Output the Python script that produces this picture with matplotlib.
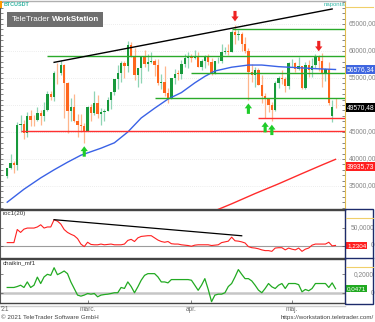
import numpy as np
import pandas as pd
import matplotlib
matplotlib.use("Agg")
import matplotlib.pyplot as plt
import matplotlib.dates as mdates
import matplotlib.transforms as mtransforms
from matplotlib.patches import Rectangle
from matplotlib.lines import Line2D
from matplotlib.ticker import MultipleLocator, FixedLocator

plt.rcParams["font.family"] = ["Liberation Sans", "DejaVu Sans"]

# ---------------------------------------------------------------- data
symbol = "BTCUSDT"
interval_label = "naponta"

dates = pd.date_range("2021-02-05", "2021-05-14", freq="D")

opens = [36940, 38290, 39180, 38800, 46370, 46420, 44810, 47970, 47290, 47150,
         48580, 47910, 49130, 52120, 51550, 55910, 55840, 57410, 54090, 48890,
         49680, 47070, 46280, 46100, 45130, 49600, 48440, 50350, 48370, 48750,
         48880, 50960, 52380, 54870, 55850, 57770, 57220, 61190, 58980, 55610,
         56900, 58910, 57640, 58030, 58100, 57350, 54080, 54340, 52300, 51290,
         55030, 55820, 55780, 57630, 58730, 58740, 58720, 58950, 57060, 58200,
         59130, 57990, 55950, 58100, 58100, 59770, 59960, 59840, 63590, 62960,
         63160, 61330, 60010, 56150, 55630, 56430, 53790, 51690, 51110, 50050,
         49000, 54030, 55030, 54830, 53560, 57700, 57800, 56580, 57170, 53210,
         57440, 56390, 57320, 58870, 58240, 55820, 56670, 47900, 49650]
highs = [38310, 40960, 39700, 46790, 48200, 47310, 48680, 48990, 48150, 49710,
         49010, 50600, 52620, 52530, 56370, 57700, 58350, 57510, 54180, 51370,
         52040, 48420, 48390, 46640, 49790, 50200, 52640, 51770, 49450, 49200,
         51450, 52400, 54900, 57390, 58150, 58060, 61850, 61700, 60630, 56940,
         58980, 60100, 59470, 59880, 58590, 58430, 55830, 57200, 53230, 55070,
         56700, 56560, 58410, 59370, 59800, 59490, 60200, 59790, 58490, 59250,
         59470, 58650, 58150, 58890, 61300, 60800, 61300, 63800, 64850, 63800,
         63520, 62510, 60500, 57530, 57080, 56760, 55470, 52130, 51170, 50550,
         54360, 55460, 56430, 55200, 58000, 58460, 57910, 58980, 57200, 57940,
         58360, 58650, 59500, 59300, 59590, 56860, 58000, 51000, 51300]
lows = [36570, 38220, 37350, 37990, 45020, 43730, 43990, 46130, 46200, 47020,
        46300, 47000, 48950, 50900, 50710, 53860, 55480, 47620, 44890, 47000,
        46810, 44110, 45000, 43000, 45120, 47050, 48100, 47500, 46300, 47070,
        48880, 49270, 51850, 53010, 54270, 55010, 56080, 58970, 54600, 53270,
        54120, 57020, 56270, 57820, 55450, 53650, 53000, 51700, 50430, 51200,
        53950, 54690, 54800, 57070, 56770, 57940, 58450, 56960, 56480, 56820,
        57330, 55470, 55700, 57690, 57870, 59370, 59350, 59800, 61300, 62020,
        60000, 59580, 50930, 54220, 53330, 53700, 50400, 47500, 48660, 47000,
        48820, 53220, 53810, 52330, 53010, 57050, 56040, 56440, 53050, 52900,
        55200, 55240, 56900, 56240, 53400, 54370, 50000, 46900, 49400]
closes = [38290, 39190, 38800, 46370, 46420, 44810, 47970, 47290, 47150, 48580,
          47910, 49130, 52120, 51550, 55910, 55840, 57410, 54090, 48890, 49680,
          47070, 46280, 46110, 45140, 49590, 48440, 50350, 48370, 48750, 48880,
          50970, 52380, 54880, 55850, 57770, 57220, 61190, 58970, 55610, 56900,
          58910, 57650, 58030, 58100, 57350, 54080, 54340, 52300, 51290, 55030,
          55820, 55780, 57630, 58730, 58740, 58720, 58950, 57060, 58200, 59130,
          57990, 56000, 58100, 58130, 59770, 59960, 59840, 63590, 62970, 63160,
          61330, 60010, 56150, 55630, 56430, 53790, 51690, 51130, 50050, 49000,
          54020, 55030, 54830, 53560, 57690, 57800, 56580, 57170, 53200, 57440,
          56390, 57310, 58860, 58240, 55820, 56670, 50300, 49650, 49570.48]

ma50_dates = ["2021-02-05", "2021-02-10", "2021-02-15", "2021-02-19", "2021-02-23",
              "2021-02-27", "2021-03-05", "2021-03-09", "2021-03-13", "2021-03-17",
              "2021-03-21", "2021-03-25", "2021-03-29", "2021-04-02", "2021-04-05",
              "2021-04-08", "2021-04-13", "2021-04-18", "2021-04-22", "2021-04-27",
              "2021-05-03", "2021-05-09", "2021-05-14"]
ma50_values = [32000, 34400, 36500, 38000, 39400,
               40700, 42000, 43000, 45000, 47600,
               49400, 51100, 52300, 54100, 55300,
               56300, 57000, 57400, 57400, 57100,
               56900, 56700, 56576.34]

ma200_dates = ["2021-04-06", "2021-04-13", "2021-04-20", "2021-04-27",
               "2021-05-04", "2021-05-10", "2021-05-14"]
ma200_values = [29900, 31700, 33600, 35400, 37300, 38900, 39935.73]

price_trend_dates = ["2021-02-19", "2021-05-13"]
price_trend_values = [57900, 67780]

support_levels = [59000, 64000, 55900, 51300]
support_starts = ["2021-02-17", "2021-04-13", "2021-04-01", "2021-03-21"]
floor_levels = [47500, 45200]
floor_starts = ["2021-04-21", "2021-02-09"]

buy_signal_dates = ["2021-02-28", "2021-04-18", "2021-04-23", "2021-04-25"]
sell_signal_dates = ["2021-04-14", "2021-05-09"]

price_ticks = [35000, 40000, 45000, 50000, 55000, 60000, 65000]

roc_values = [9, 9, 9, 45, 37, 46, 49, 49, 49, 52,
              58, 49, 52, 52, 72, 68, 60, 45, 37, 32,
              28, 20, 5, -2, 10, 4, 3, 3, 5, 3,
              4, 5, 3, 3, 3, 5, 15, 18, 12, 22,
              26, 27, 28, 28, 22, 16, 12, 10, 12, 6,
              5, 5, 3, 2, 1, -1, 2, 3, 3, 3,
              3, 1, 2, 3, 9, 11, 13, 24, 14, 13,
              11, 8, -2, -5, -6, -8, -11, -13, -13, -15,
              -6, -5, -5, -11, -6, -9, -11, -6, -15, -9,
              -6, 2, 5, 5, 5, 5, 10, 0, 1.2304]
roc_trend_dates = ["2021-02-19", "2021-04-16"]
roc_trend_values = [72, 27.8]
roc_ticks = [0, 50]

cmf_values = [0.060, 0.060, 0.060, 0.070, 0.084, 0.060, 0.119, 0.060, 0.084, 0.170,
              0.102, 0.172, 0.200, 0.189, 0.270, 0.196, 0.214, 0.235, 0.207, 0.119,
              0.049, -0.021, -0.032, -0.021, -0.004, -0.011, -0.004, -0.039, -0.021, -0.015,
              -0.011, -0.004, 0.004, 0.004, 0.060, 0.050, 0.119, 0.070, 0.004, 0.067,
              0.137, 0.189, 0.207, 0.207, 0.207, 0.172, 0.119, 0.119, 0.109, 0.144,
              0.144, 0.144, 0.144, 0.144, 0.144, 0.137, 0.084, 0.030, 0.084, 0.154,
              0.040, -0.091, -0.021, -0.011, -0.011, 0.004, 0.070, 0.102, 0.172, 0.250,
              0.200, 0.154, 0.154, 0.130, 0.084, 0.032, 0.004, 0.049, 0.102, 0.067,
              0.049, 0.084, 0.102, 0.049, 0.102, 0.102, 0.102, 0.090, 0.014, 0.039,
              0.025, 0.049, 0.102, 0.102, 0.102, 0.102, 0.060, 0.109, 0.0471]
cmf_ticks = [0, 0.2]

month_ticks = ["2021-03-01", "2021-04-01", "2021-05-01"]
month_labels = ["márc.", "ápr.", "máj."]

# ---------------------------------------------------------------- style
UP_BODY, UP_WICK = "#17993b", "#8fd4b4"
DN_BODY, DN_WICK = "#ff661c", "#ffb68c"
MA50_C, MA200_C = "#3a62e6", "#ff2b2b"
LEVEL_G, LEVEL_R = "#2aaa2a", "#ff3030"
AXIS_TXT = "#858585"

W, H = 375, 322
fig = plt.figure(figsize=(W / 100, H / 100), dpi=100)
fig.patch.set_facecolor("white")


def px_box(x0, y0, x1, y1):
    return [x0 / W, 1 - y1 / H, (x1 - x0) / W, (y1 - y0) / H]


ax = fig.add_axes(px_box(0, 1, 345, 209))
ax_roc = fig.add_axes(px_box(0, 209.5, 345, 258), sharex=ax)
ax_cmf = fig.add_axes(px_box(0, 258.5, 345, 303), sharex=ax)

x = mdates.date2num(dates)
o, h, l, c = (np.asarray(v, dtype=float) for v in (opens, highs, lows, closes))

anchor = mdates.date2num(pd.Timestamp("2021-04-14"))
px_per_day = 3.35
x_left, x_right = anchor - 235 / px_per_day, anchor + 110 / px_per_day
ax.set_xlim(x_left, x_right)
ax.set_ylim(30740, 69260)
ax_roc.set_ylim(-33.3, 100)
ax_cmf.set_ylim(-0.105, 0.368)

for a in (ax, ax_roc, ax_cmf):
    a.set_facecolor("white")
    a.spines["right"].set(linestyle=(0, (1, 1)), color="#e0bb50", linewidth=0.8)
    a.spines["left"].set(color="#555555", linewidth=0.8)
    a.spines["top"].set(color="#444444", linewidth=1.0)
    a.spines["bottom"].set(color="#444444", linewidth=1.0)
ax.spines["top"].set_color("#b0b0b0")

# price grid
for v in price_ticks:
    ax.axhline(v, color="#dcdcdc", lw=0.5, ls=(0, (1, 2)), zorder=0)

# candles
up = c >= o
body_bottom = np.minimum(o, c)
body_height = np.maximum(np.abs(c - o), 130)
ax.vlines(x[up], l[up], h[up], color=UP_WICK, lw=0.9, zorder=2)
ax.vlines(x[~up], l[~up], h[~up], color=DN_WICK, lw=0.9, zorder=2)
ax.bar(x[up], body_height[up], bottom=body_bottom[up], width=0.7,
       color=UP_BODY, lw=0, zorder=3)
ax.bar(x[~up], body_height[~up], bottom=body_bottom[~up], width=0.7,
       color=DN_BODY, lw=0, zorder=3)

# moving averages
ax.plot(mdates.date2num(pd.to_datetime(ma50_dates)), ma50_values,
        color=MA50_C, lw=1.0, zorder=4)
ax.plot(mdates.date2num(pd.to_datetime(ma200_dates)), ma200_values,
        color=MA200_C, lw=1.0, zorder=4)

# horizontal levels
for lvl, st in zip(support_levels, support_starts):
    ax.hlines(lvl, mdates.date2num(pd.Timestamp(st)), x_right,
              color=LEVEL_G, lw=1.0, zorder=4)
for lvl, st in zip(floor_levels, floor_starts):
    ax.hlines(lvl, mdates.date2num(pd.Timestamp(st)), x_right,
              color=LEVEL_R, lw=1.0, zorder=4)

# trend line
ax.plot(mdates.date2num(pd.to_datetime(price_trend_dates)), price_trend_values,
        color="black", lw=1.0, zorder=5)

# signal arrows
date_index = {d.strftime("%Y-%m-%d"): i for i, d in enumerate(dates)}
arrow_style = "simple,head_length=0.5,head_width=0.75,tail_width=0.32"
for d in buy_signal_dates:
    i = date_index[d]
    ax.annotate("", xy=(x[i], l[i]), xytext=(0, -10), textcoords="offset points",
                arrowprops=dict(arrowstyle=arrow_style, fc="#1fcc2a", ec="none",
                                shrinkA=0, shrinkB=2.5, mutation_scale=7),
                zorder=6)
for d in sell_signal_dates:
    i = date_index[d]
    ax.annotate("", xy=(x[i], h[i]), xytext=(0, 10), textcoords="offset points",
                arrowprops=dict(arrowstyle=arrow_style, fc="#ee2222", ec="none",
                                shrinkA=0, shrinkB=2.5, mutation_scale=7),
                zorder=6)

# ---------------------------------------------------------------- indicators
ax_roc.axhline(0, color="#9c9c9c", lw=0.8, zorder=1)
ax_roc.plot(x, roc_values, color="#ff2020", lw=0.8, zorder=3)
ax_roc.plot(mdates.date2num(pd.to_datetime(roc_trend_dates)), roc_trend_values,
            color="black", lw=0.9, zorder=4)

ax_cmf.axhline(0, color="#c6c6c6", lw=1.8, zorder=1)
ax_cmf.plot(x, cmf_values, color="#22aa22", lw=0.9, zorder=3)

# ---------------------------------------------------------------- ticks
ax.yaxis.set_major_locator(FixedLocator(price_ticks))
ax.yaxis.set_minor_locator(MultipleLocator(1000))
ax_roc.yaxis.set_major_locator(FixedLocator(roc_ticks))
ax_cmf.yaxis.set_major_locator(FixedLocator(cmf_ticks))
for a in (ax, ax_roc, ax_cmf):
    a.tick_params(axis="y", which="both", left=True, right=True,
                  labelleft=False, labelright=False, direction="in",
                  length=2, width=0.5, colors="#555555")
    a.tick_params(axis="x", which="both", bottom=False, labelbottom=False)

ax_cmf.set_xticks(mdates.date2num(pd.to_datetime(month_ticks)))
ax_cmf.set_xticklabels(month_labels)
ax_cmf.tick_params(axis="x", bottom=True, labelbottom=True, direction="in",
                   length=2, width=0.5, color="#555555",
                   labelsize=4.7, labelcolor="#666666", pad=2.5)


def px_to_data(axis, px):
    """Height of px screen pixels in the data units of axis."""
    lo, hi = axis.get_ylim()
    height_px = axis.get_position().height * H
    return px * (hi - lo) / height_px


def right_labels(axis, values, fmt, covered=(), right_px=376):
    trans = mtransforms.blended_transform_factory(fig.transFigure, axis.transData)
    gap = px_to_data(axis, 6)
    for v in values:
        if any(abs(v - cv) < gap for cv in covered):
            continue
        axis.text(right_px / W, v, fmt(v), transform=trans, ha="right", va="center",
                  fontsize=4.8, color=AXIS_TXT, clip_on=False, zorder=12)


def value_tag(axis, value, text, fc, dy_px=0.0, size=4.8):
    trans = mtransforms.blended_transform_factory(fig.transFigure, axis.transData)
    trans = trans + mtransforms.ScaledTranslation(0, -dy_px / 100, fig.dpi_scale_trans)
    axis.text(347 / W, value, text, transform=trans, ha="left", va="center",
              fontsize=size, color="white", clip_on=False, zorder=10,
              bbox=dict(boxstyle="square,pad=0.15", fc=fc, ec="none"))


def comma(v, decimals):
    return f"{v:.{decimals}f}".replace(".", ",") if v != 0 else "0"


# the last-price tag sits on top of the neighbouring scale label
right_labels(ax, price_ticks, lambda v: comma(v, 2), covered=[closes[-1]])
right_labels(ax_roc, roc_ticks, lambda v: comma(v, 4), right_px=374)
right_labels(ax_cmf, cmf_ticks, lambda v: comma(v, 4), right_px=374)

value_tag(ax, ma50_values[-1], comma(ma50_values[-1], 2), "#3f66e0")
value_tag(ax, closes[-1], comma(closes[-1], 2), "#000000")
value_tag(ax, ma200_values[-1], comma(ma200_values[-1], 2), "#ff1f1f", dy_px=7)
value_tag(ax_roc, roc_values[-1], comma(roc_values[-1], 4), "#ff1f1f", size=4.5)
value_tag(ax_cmf, cmf_values[-1], comma(cmf_values[-1], 4), "#22aa22", size=4.5)

# panel captions
ax_roc.text(3 / 345, (258 - 214) / 48.5, "roc1(20)", transform=ax_roc.transAxes,
            fontsize=4.5, color="#333333", va="center", ha="left")
ax_cmf.text(3 / 345, (303 - 263) / 44.5, "chaikin_mf1", transform=ax_cmf.transAxes,
            fontsize=4.5, color="#333333", va="center", ha="left")

# ---------------------------------------------------------------- frame decorations
for yy in (7, 218, 267):
    fig.add_artist(Line2D([346 / W, 373 / W], [1 - yy / H] * 2,
                          color="#f0cf6a", lw=0.8))
fig.add_artist(Rectangle((345 / W, 1 - 304 / H), 28 / W, 95 / H, fill=False,
                         ec="#1d2b6b", lw=1.0, transform=fig.transFigure))
fig.add_artist(Line2D([345 / W, 373 / W], [1 - 258 / H] * 2, color="#1d2b6b", lw=1.0))
fig.add_artist(Line2D([0, 345 / W], [1 - 305.5 / H] * 2, color="#cfcfcf", lw=1.0))

# symbol header
fig.add_artist(Rectangle((0, 1 - 8 / H), 2 / W, 7 / H, fc="#ff9a00", ec="none",
                         transform=fig.transFigure))
fig.text(3.5 / W, 1 - 4.5 / H, symbol, fontsize=3.9, color="#2fb3a0",
         weight="bold", va="center", ha="left")
fig.text(345 / W, 1 - 4.5 / H, interval_label, fontsize=4.3, color="#35b8a8",
         va="center", ha="right")

# watermark: grey plate with two-weight product name, scaled to fit the plate
fig.add_artist(Rectangle((7 / W, 1 - 27 / H), 96 / W, 15 / H, fc="#6e6e6e", ec="none",
                         transform=fig.transFigure, zorder=5))
renderer = fig.canvas.get_renderer()
wm_size = 7.0
t1 = fig.text(11.5 / W, 1 - 19.5 / H, "TeleTrader", fontsize=wm_size, color="white",
              va="center", ha="left", zorder=6)
t2 = fig.text(0, 1 - 19.5 / H, "WorkStation", fontsize=wm_size, color="white",
              weight="bold", va="center", ha="left", zorder=6)
space_px = 2.2
w1 = t1.get_window_extent(renderer).width
w2 = t2.get_window_extent(renderer).width
scale = 87.0 / (w1 + w2 + space_px)
t1.set_fontsize(wm_size * scale)
t2.set_fontsize(wm_size * scale)
w1 = t1.get_window_extent(renderer).width
t2.set_x((11.5 + w1 + space_px * scale) / W)

# footer
fig.text(1 / W, 1 - 309.5 / H, "'21", fontsize=4.7, color="#666666", va="center")
fig.text(1 / W, 1 - 317.5 / H, "© 2021 TeleTrader Software GmbH", fontsize=4.5,
         color="#444444", va="center", ha="left")
fig.text(374 / W, 1 - 317.5 / H, "https://workstation.teletrader.com/", fontsize=4.5,
         color="#444444", va="center", ha="right")

fig.savefig("out.png", dpi=100)
